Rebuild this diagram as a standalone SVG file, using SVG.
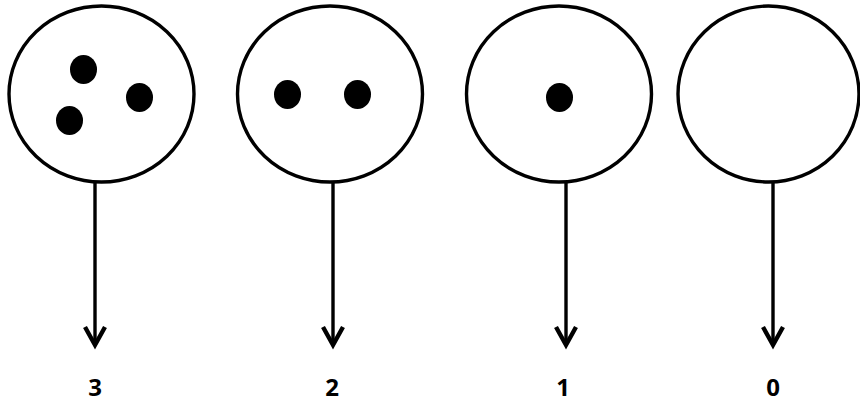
<svg xmlns="http://www.w3.org/2000/svg" width="860" height="402" viewBox="0 0 860 402">
  <style>
    .ring { fill: #ffffff; stroke: #000000; stroke-width: 3.4; }
    .dot { fill: #000000; }
    .shaft { stroke: #000000; stroke-width: 3.4; fill: none; }
    .head { stroke: #000000; stroke-width: 4.4; fill: none; stroke-linejoin: miter; stroke-linecap: butt; }
    .num { font-family: "Open Sans", "Liberation Sans", sans-serif; font-weight: bold; font-size: 24px; text-anchor: middle; fill: #000000; }
  </style>
  <rect width="860" height="402" fill="#ffffff"/>

  <g id="connectors">
    <line class="shaft" x1="95" y1="183" x2="95" y2="345"/>
    <polyline class="head" points="85,327 95,345 105,327"/>
    <line class="shaft" x1="333" y1="183" x2="333" y2="345"/>
    <polyline class="head" points="323,327 333,345 343,327"/>
    <line class="shaft" x1="566" y1="183" x2="566" y2="345"/>
    <polyline class="head" points="556,327 566,345 576,327"/>
    <line class="shaft" x1="773" y1="183" x2="773" y2="345"/>
    <polyline class="head" points="763,327 773,345 783,327"/>
  </g>

  <g id="set-three">
    <ellipse class="ring" cx="101.5" cy="94" rx="92.5" ry="88"/>
    <ellipse class="dot" cx="83.5" cy="69.5" rx="13.5" ry="14.5"/>
    <ellipse class="dot" cx="139.5" cy="97.5" rx="13.5" ry="14.5"/>
    <ellipse class="dot" cx="69.5" cy="120.5" rx="13.5" ry="14.5"/>
  </g>
  <g id="set-two">
    <ellipse class="ring" cx="330" cy="94" rx="92.5" ry="88"/>
    <ellipse class="dot" cx="287.5" cy="94.5" rx="13.5" ry="14.5"/>
    <ellipse class="dot" cx="357.5" cy="94.5" rx="13.5" ry="14.5"/>
  </g>
  <g id="set-one">
    <ellipse class="ring" cx="559" cy="94" rx="92.5" ry="88"/>
    <ellipse class="dot" cx="559.5" cy="97.5" rx="13.5" ry="14.5"/>
  </g>
  <g id="set-zero">
    <ellipse class="ring" cx="768.5" cy="94" rx="90.5" ry="88"/>
  </g>

  <g id="labels">
    <text class="num" x="95" y="396">3</text>
    <text class="num" x="332" y="396">2</text>
    <text class="num" x="563" y="396">1</text>
    <text class="num" x="773" y="396">0</text>
  </g>
</svg>
